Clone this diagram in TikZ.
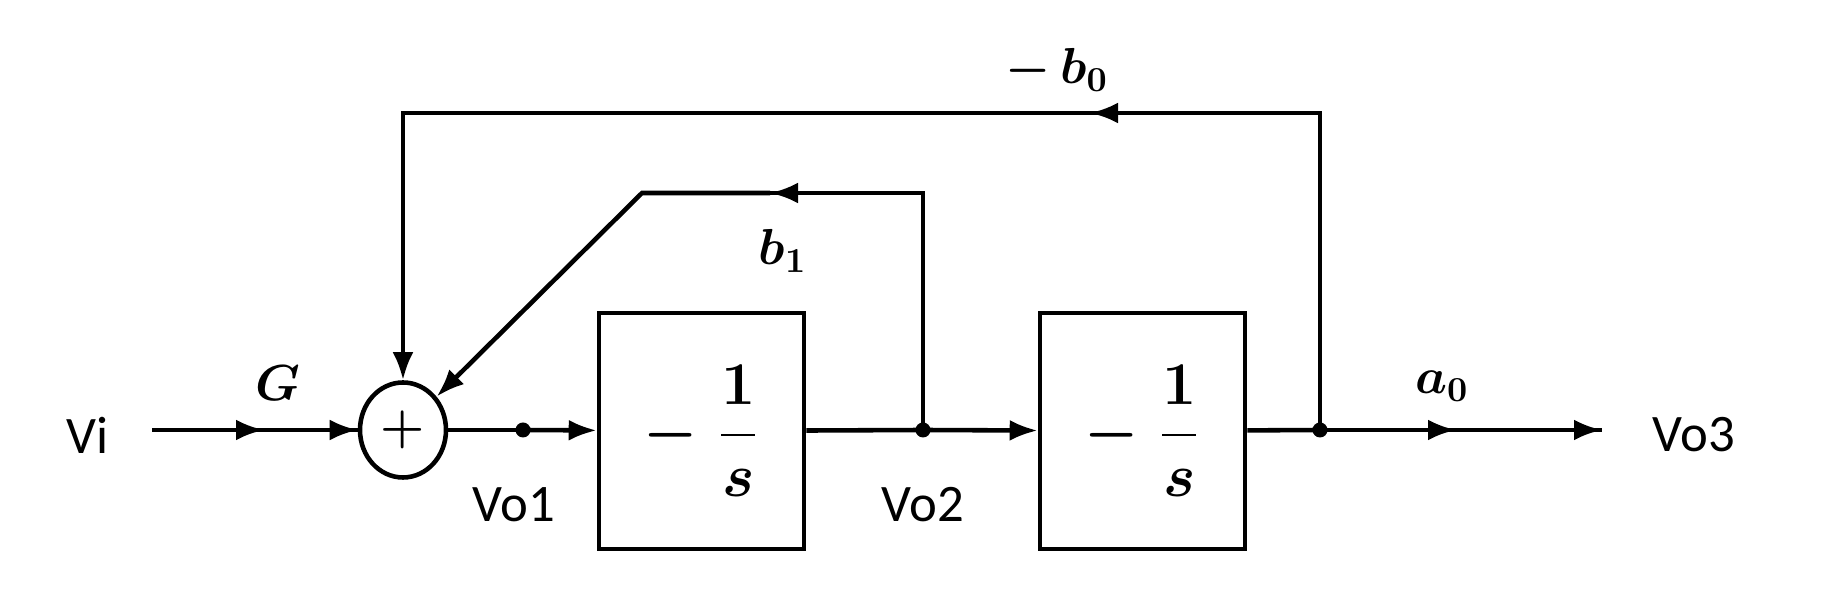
\documentclass[tikz,border=0pt]{standalone}
\usepackage{fontspec}
\usepackage{amsmath}
\newfontfamily\lblfont{Carlito}
\usetikzlibrary{arrows.meta,positioning,shapes.geometric}

\begin{document}
\begin{tikzpicture}[
    block/.style={rectangle, draw=black, line width=1.3pt,
                  minimum width=2.05cm, minimum height=2.36cm,
                  font=\fontsize{16}{19}\selectfont\boldmath},
    sumnode/.style={ellipse, draw=black, line width=1.3pt,
                  minimum width=0.86cm, minimum height=0.95cm,
                  inner sep=0pt, font=\Large\boldmath},
    dot/.style={circle, fill=black, minimum size=1.5mm, inner sep=0pt},
    lbl/.style={font=\lblfont\fontsize{15}{18}\selectfont},
    gain/.style={font=\Large\boldmath},
    wire/.style={line width=1.3pt, draw=black},
    arr/.style={-{Latex[length=2.8mm, width=2.1mm]}, line width=1.3pt, draw=black}
]
    \useasboundingbox (0,0) rectangle (18.32,5.98);

    % forward path
    \node[sumnode] (sum) at (4.03,1.68) {$+$};
    \node[dot] (vo1) at (5.23,1.68) {};
    \node[block] (blk1) at (7.015,1.67) {$-\;\dfrac{1}{s}$};
    \node[dot] (vo2) at (9.23,1.68) {};
    \node[block] (blk2) at (11.425,1.67) {$-\;\dfrac{1}{s}$};
    \node[dot] (vo3) at (13.20,1.68) {};

    \coordinate (in) at (1.52,1.68);
    \coordinate (g) at (2.64,1.68);
    \coordinate (a0c) at (14.56,1.68);
    \coordinate (out) at (16.02,1.68);

    % feedback corners
    \coordinate (b1r) at (9.23,4.05);
    \coordinate (b1m) at (7.70,4.05);
    \coordinate (b1l) at (6.42,4.05);
    \coordinate (b0r) at (13.20,4.85);
    \coordinate (b0m) at (10.90,4.85);
    \coordinate (b0l) at (4.03,4.85);

    % labels
    \node[lbl] (vi) at (0.88,1.63) {Vi};
    \node[lbl] (vo1lbl) at (5.14,0.93) {Vo1};
    \node[lbl] (vo2lbl) at (9.23,0.93) {Vo2};
    \node[lbl] (vo3lbl) at (16.94,1.63) {Vo3};
    \node[gain] (glbl) at (2.78,2.15) {$G$};
    \node[gain] (b1lbl) at (7.83,3.47) {$b_1$};
    \node[gain] (a0lbl) at (14.42,2.12) {$a_0$};
    \node[gain] (b0lbl) at (10.57,5.28) {$-\,b_0$};

    \draw[wire] (in) -- (sum);
    \draw[arr] (in) -- (g);
    \draw[arr] (g) -- (sum);
    \draw[wire] (sum) -- (vo1.center);
    \draw[arr] (vo1.center) -- (blk1);
    \draw[wire] (blk1) -- (vo2.center);
    \draw[arr] (vo2.center) -- (blk2);
    \draw[wire] (blk2) -- (vo3.center);
    \draw[wire] (vo3.center) -- (out);
    \draw[arr] (vo3.center) -- (a0c);
    \draw[arr] (a0c) -- (out);

    \draw[wire] (vo2.center) -- (b1r) -- (b1l);
    \draw[arr] (b1r) -- (b1m);
    \draw[arr] (b1m) -- (b1l) -- (sum);

    \draw[wire] (vo3.center) -- (b0r) -- (b0l);
    \draw[arr] (b0r) -- (b0m);
    \draw[arr] (b0m) -- (b0l) -- (sum);
\end{tikzpicture}
\end{document}
